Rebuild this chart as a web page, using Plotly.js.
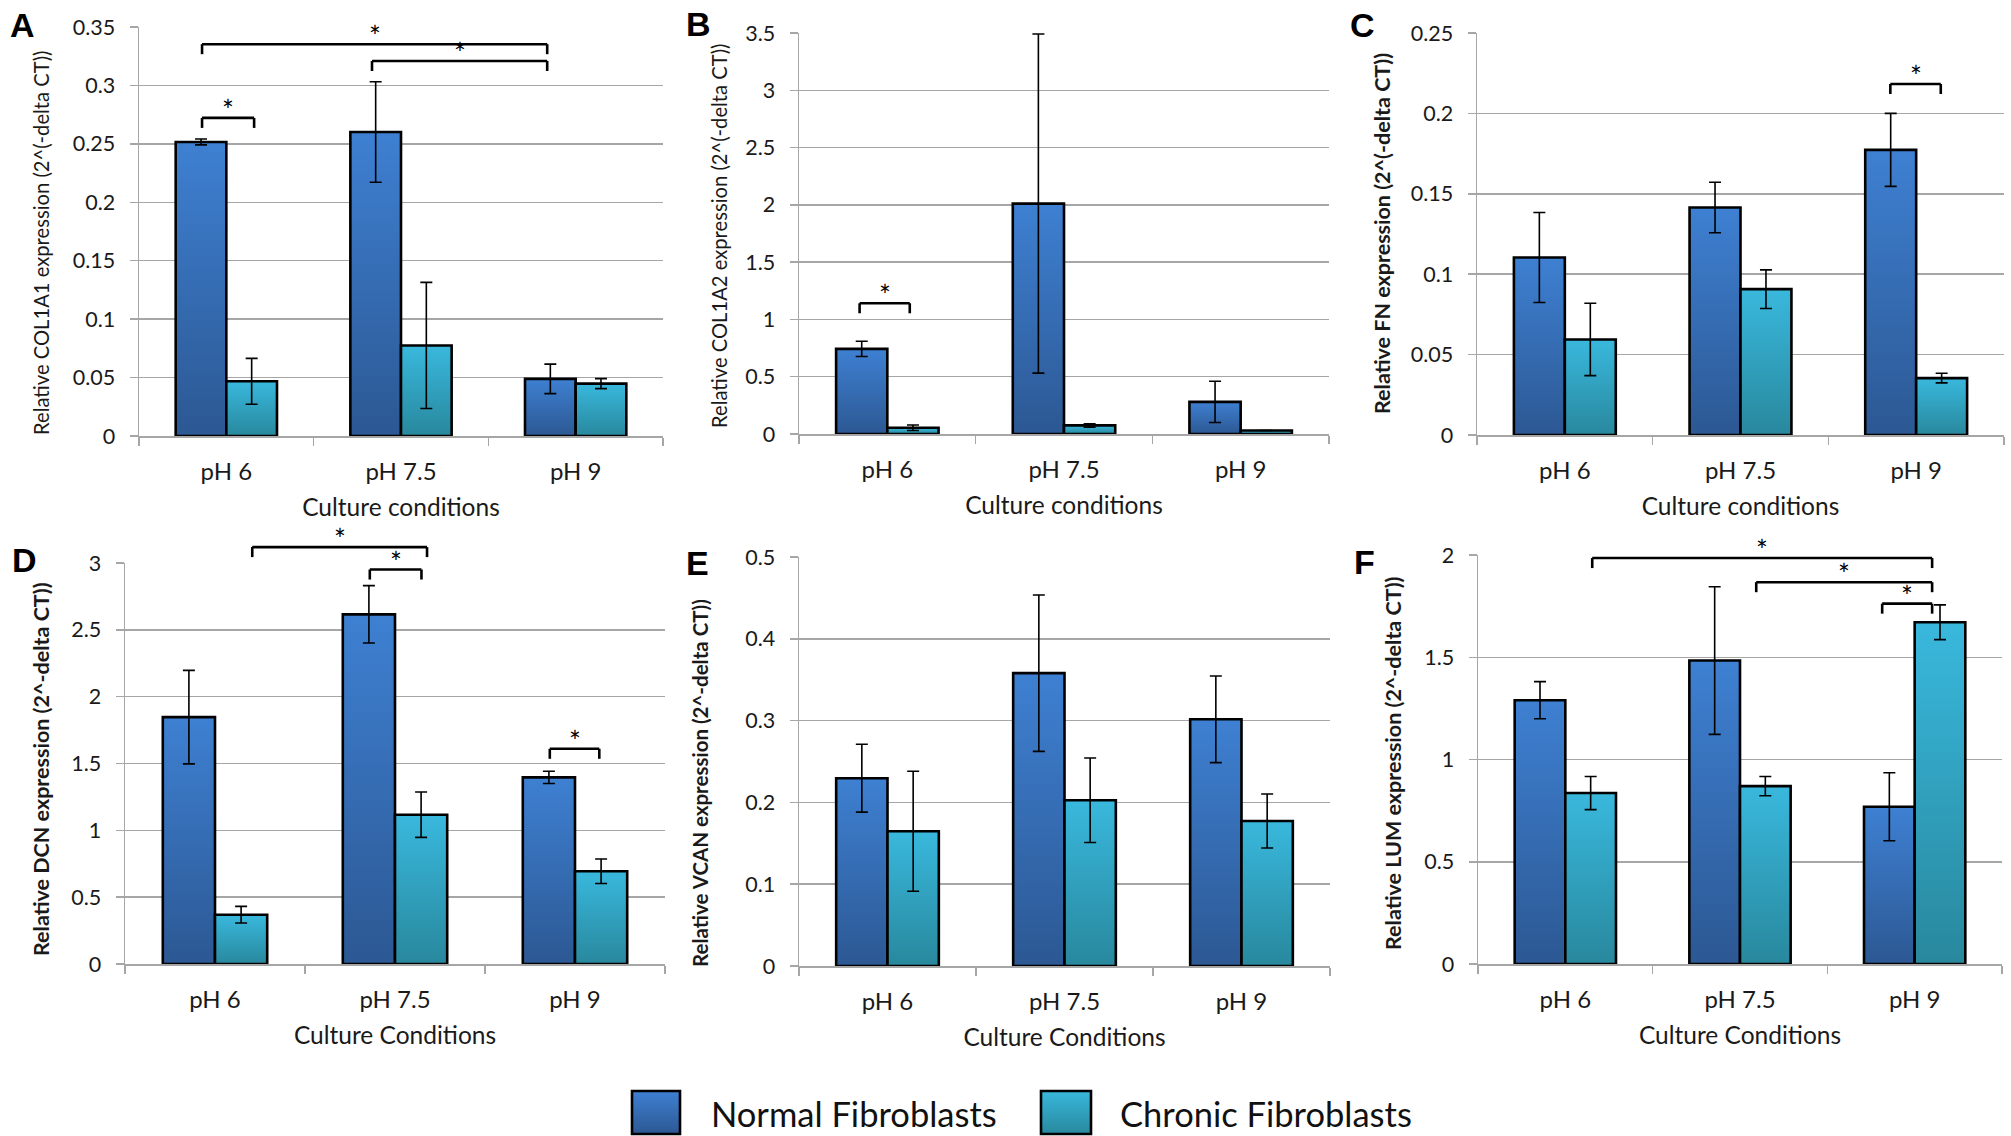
<!DOCTYPE html>
<html><head><meta charset="utf-8">
<script src="https://cdn.plot.ly/plotly-3.0.1.min.js"></script>
<style>html,body{margin:0;padding:0;background:#fff;} #chart{width:2011px;height:1136px;}</style>
</head><body>
<svg width="0" height="0" style="position:absolute;left:0;top:0">
 <defs>
  <linearGradient id="gradNormal" x1="0" y1="0" x2="0" y2="1">
   <stop offset="0" stop-color="#3e80d2"/><stop offset="1" stop-color="#2c5893"/>
  </linearGradient>
  <linearGradient id="gradChronic" x1="0" y1="0" x2="0" y2="1">
   <stop offset="0" stop-color="#39b8dd"/><stop offset="1" stop-color="#28889d"/>
  </linearGradient>
 </defs>
</svg>
<div id="chart"></div>
<script>
// ---------------- DATA ----------------
const categories = ['pH 6', 'pH 7.5', 'pH 9'];
const seriesNames = ['Normal Fibroblasts', 'Chronic Fibroblasts'];

// A: COL1A1
const col1a1Normal = [0.2516, 0.2602, 0.0489];
const col1a1NormalErr = [0.0025, 0.043, 0.0126];
const col1a1Chronic = [0.0468, 0.0775, 0.0448];
const col1a1ChronicErr = [0.0196, 0.054, 0.0043];
// B: COL1A2
const col1a2Normal = [0.743, 2.011, 0.280];
const col1a2NormalErr = [0.067, 1.48, 0.18];
const col1a2Chronic = [0.054, 0.075, 0.030];
const col1a2ChronicErr = [0.024, 0.015, 0];
// C: FN
const fnNormal = [0.1104, 0.1415, 0.1773];
const fnNormalErr = [0.028, 0.0157, 0.0227];
const fnChronic = [0.0594, 0.0907, 0.0354];
const fnChronicErr = [0.0225, 0.012, 0.003];
// D: DCN
const dcnNormal = [1.847, 2.616, 1.396];
const dcnNormalErr = [0.35, 0.215, 0.046];
const dcnChronic = [0.369, 1.117, 0.694];
const dcnChronicErr = [0.062, 0.17, 0.092];
// E: VCAN
const vcanNormal = [0.2296, 0.3580, 0.3016];
const vcanNormalErr = [0.0415, 0.0956, 0.053];
const vcanChronic = [0.1647, 0.2026, 0.1773];
const vcanChronicErr = [0.0733, 0.0516, 0.033];
// F: LUM
const lumNormal = [1.290, 1.484, 0.769];
const lumNormalErr = [0.091, 0.361, 0.166];
const lumChronic = [0.836, 0.870, 1.671];
const lumChronicErr = [0.081, 0.047, 0.085];

// significance brackets: x ends in category units, y level of the bracket top in data units
const col1a1Brackets = [{x0: -0.139, x1: 0.159, y: 0.2722}, {x0: -0.139, x1: 1.837, y: 0.3353}, {x0: 0.834, x1: 1.837, y: 0.3209}];
const col1a2Brackets = [{x0: -0.157, x1: 0.127, y: 1.141}];
const fnBrackets = [{x0: 1.853, x1: 2.140, y: 0.2183}];
const dcnBrackets = [{x0: 0.207, x1: 1.178, y: 3.119}, {x0: 0.860, x1: 1.147, y: 2.951}, {x0: 1.860, x1: 2.135, y: 1.610}];
const vcanBrackets = [];
const lumBrackets = [{x0: 0.154, x1: 2.100, y: 1.985}, {x0: 1.093, x1: 2.100, y: 1.867}, {x0: 1.814, x1: 2.100, y: 1.762}];

// ---------------- LAYOUT CONFIG ----------------
const W = 2011, H = 1136;
const FONT = 'Lato, "Liberation Sans", sans-serif';
const normalFlat = 'rgb(53, 107, 180)';
const chronicFlat = 'rgb(49, 160, 190)';
const gridCol = '#a6a6a6';

const panels = [
  {letter: 'A', px: [139, 663], py: [27, 436], range: [0, 0.35], dtick: 0.05, ytitle: 'Relative COL1A1 expression (2^(-delta CT))', bold: false, tsz: 20.2, tpos: [41, 243], xtitle: 'Culture conditions', lpos: [22, 25],
   n: col1a1Normal, ne: col1a1NormalErr, c: col1a1Chronic, ce: col1a1ChronicErr, br: col1a1Brackets},
  {letter: 'B', px: [799, 1329], py: [33, 434], range: [0, 3.5], dtick: 0.5, ytitle: 'Relative COL1A2 expression (2^(-delta CT))', bold: false, tsz: 20.2, tpos: [719, 236], xtitle: 'Culture conditions', lpos: [698, 24],
   n: col1a2Normal, ne: col1a2NormalErr, c: col1a2Chronic, ce: col1a2ChronicErr, br: col1a2Brackets},
  {letter: 'C', px: [1477, 2004], py: [33, 435], range: [0, 0.25], dtick: 0.05, ytitle: 'Relative FN expression (2^(-delta CT))', bold: true, tsz: 21.5, tpos: [1382, 234], xtitle: 'Culture conditions', lpos: [1362, 25],
   n: fnNormal, ne: fnNormalErr, c: fnChronic, ce: fnChronicErr, br: fnBrackets},
  {letter: 'D', px: [125, 665], py: [563, 964], range: [0, 3], dtick: 0.5, ytitle: 'Relative DCN expression (2^-delta CT))', bold: true, tsz: 21.5, tpos: [41, 769], xtitle: 'Culture Conditions', lpos: [24, 560],
   n: dcnNormal, ne: dcnNormalErr, c: dcnChronic, ce: dcnChronicErr, br: dcnBrackets},
  {letter: 'E', px: [799, 1330], py: [557, 966], range: [0, 0.5], dtick: 0.1, ytitle: 'Relative VCAN expression (2^-delta CT))', bold: true, tsz: 20.5, tpos: [700, 783], xtitle: 'Culture Conditions', lpos: [697, 563],
   n: vcanNormal, ne: vcanNormalErr, c: vcanChronic, ce: vcanChronicErr, br: vcanBrackets},
  {letter: 'F', px: [1478, 2002], py: [555, 964], range: [0, 2], dtick: 0.5, ytitle: 'Relative LUM expression (2^-delta CT))', bold: true, tsz: 21.5, tpos: [1393, 763], xtitle: 'Culture Conditions', lpos: [1364, 562],
   n: lumNormal, ne: lumNormalErr, c: lumChronic, ce: lumChronicErr, br: lumBrackets}
];

const data = [];
const layout = {
  width: W, height: H,
  margin: {l: 0, r: 0, t: 0, b: 0},
  paper_bgcolor: '#fff', plot_bgcolor: '#fff',
  font: {family: FONT, color: '#1a1a1a'},
  showlegend: false,
  barmode: 'group', bargap: 0.42, bargroupgap: 0,
  shapes: [], annotations: []
};

panels.forEach((p, i) => {
  const k = i === 0 ? '' : String(i + 1);
  const xa = 'x' + k, ya = 'y' + k;
  const plotH = p.py[1] - p.py[0];
  const errStyle = {type: 'data', visible: true, color: '#000', thickness: 1.6, width: 6};
  data.push({type: 'bar', name: seriesNames[0], x: categories, y: p.n, xaxis: xa, yaxis: ya,
    marker: {color: normalFlat, line: {color: '#000', width: 2.6}},
    error_y: Object.assign({array: p.ne}, errStyle), hoverinfo: 'skip'});
  data.push({type: 'bar', name: seriesNames[1], x: categories, y: p.c, xaxis: xa, yaxis: ya,
    marker: {color: chronicFlat, line: {color: '#000', width: 2.6}},
    error_y: Object.assign({array: p.ce}, errStyle), hoverinfo: 'skip'});

  layout['xaxis' + k] = {
    domain: [p.px[0] / W, p.px[1] / W], anchor: ya, type: 'category', range: [-0.5, 2.5],
    tickson: 'boundaries', ticks: 'outside', ticklen: 8, tickwidth: 1.5, tickcolor: gridCol,
    showline: true, linecolor: gridCol, linewidth: 1.5, showgrid: false, zeroline: false,
    tickfont: {size: 24, color: '#1a1a1a'}, ticklabelstandoff: 14,
    title: {text: p.xtitle, font: {size: 24.5, color: '#1a1a1a'}, standoff: 14}
  };
  layout['yaxis' + k] = {
    domain: [1 - p.py[1] / H, 1 - p.py[0] / H], anchor: xa, range: p.range, dtick: p.dtick, tick0: 0,
    ticks: 'outside', ticklen: 8, tickwidth: 1.5, tickcolor: gridCol,
    showline: true, linecolor: gridCol, linewidth: 1.5, showgrid: true, gridcolor: gridCol, gridwidth: 1.5, zeroline: false,
    tickfont: {size: 21.5, color: '#1a1a1a'}, ticklabelstandoff: 10
  };

  // y-axis title (placed as rotated text so it can sit where the original does)
  layout.annotations.push({text: p.ytitle, xref: 'paper', yref: 'paper', x: p.tpos[0] / W, y: 1 - p.tpos[1] / H,
    xanchor: 'center', yanchor: 'middle', textangle: -90, showarrow: false,
    font: {size: p.tsz, color: '#1a1a1a', weight: p.bold ? 'bold' : 'normal'}});

  // brackets & stars
  const toFrac = v => (v - p.range[0]) / (p.range[1] - p.range[0]);
  const leg = 10 / plotH;
  p.br.forEach(b => {
    const yt = toFrac(b.y), yl = yt - leg;
    const ln = {type: 'line', xref: xa, yref: ya + ' domain', line: {color: '#000', width: 2.6}, layer: 'above'};
    layout.shapes.push(Object.assign({x0: b.x0, x1: b.x0, y0: yl, y1: yt}, ln));
    layout.shapes.push(Object.assign({x0: b.x0, x1: b.x1, y0: yt, y1: yt}, ln));
    layout.shapes.push(Object.assign({x0: b.x1, x1: b.x1, y0: yt, y1: yl}, ln));
    layout.annotations.push({text: '*', xref: xa, yref: ya + ' domain', x: (b.x0 + b.x1) / 2, y: yt,
      xanchor: 'center', yanchor: 'middle', yshift: 8, showarrow: false, font: {size: 28, color: '#000'}});
  });

  // panel letter
  layout.annotations.push({text: p.letter, xref: 'paper', yref: 'paper', x: p.lpos[0] / W, y: 1 - p.lpos[1] / H,
    xanchor: 'center', yanchor: 'middle', showarrow: false,
    font: {family: '"Liberation Sans", Arial, sans-serif', size: 34, weight: 'bold', color: '#000'}});
});

// custom legend (large swatches)
const legendItems = [
  {name: seriesNames[0], box: [632, 680], text: 709},
  {name: seriesNames[1], box: [1041, 1091], text: 1118}
];
const legendBoxIdx = [];
legendItems.forEach((it, j) => {
  legendBoxIdx.push(layout.shapes.length);
  layout.shapes.push({type: 'rect', xref: 'paper', yref: 'paper',
    x0: it.box[0] / W, x1: it.box[1] / W, y0: 1 - 1134 / H, y1: 1 - 1091 / H,
    fillcolor: j === 0 ? normalFlat : chronicFlat, line: {color: '#000', width: 2.6}});
  layout.annotations.push({text: it.name, xref: 'paper', yref: 'paper', x: it.text / W, y: 1 - 1113 / H,
    xanchor: 'left', yanchor: 'middle', showarrow: false, font: {size: 34.5, color: '#111'}});
});

Plotly.newPlot('chart', data, layout, {staticPlot: true, displayModeBar: false}).then(() => {
  const norm = s => s.replace(/\s/g, '');
  document.querySelectorAll('.barlayer .point path').forEach(el => {
    const f = norm(el.style.fill || '');
    if (f === norm(normalFlat)) el.style.fill = 'url(#gradNormal)';
    else if (f === norm(chronicFlat)) el.style.fill = 'url(#gradChronic)';
  });
  document.querySelectorAll('.shapelayer path').forEach(el => {
    const idx = +el.getAttribute('data-index');
    if (idx === legendBoxIdx[0]) el.style.fill = 'url(#gradNormal)';
    if (idx === legendBoxIdx[1]) el.style.fill = 'url(#gradChronic)';
  });
});
</script>
</body></html>
